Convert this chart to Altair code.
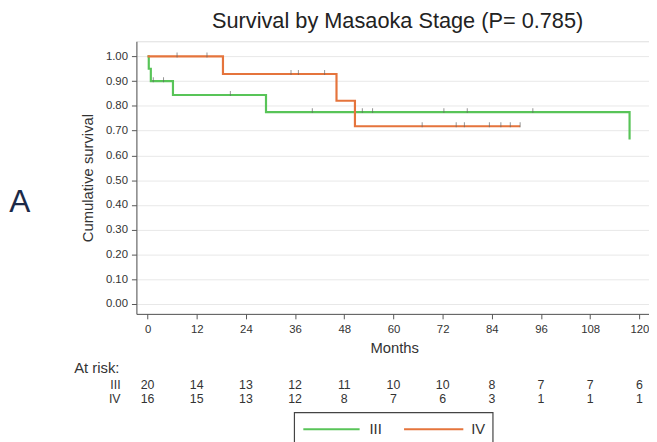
import altair as alt
import pandas as pd

FONT = "Liberation Sans"
GREEN = "#58c458"
ORANGE = "#e5743c"
TXT = "#333333"

# Kaplan-Meier step points (months, cumulative survival)
iii_time = [0.0, 0.3, 0.8, 6.2, 28.9, 117.6]
iii_surv = [1.000, 0.950, 0.900, 0.844, 0.775, 0.664]
iv_time = [0.0, 18.4, 46.1, 50.6, 90.9]
iv_surv = [1.000, 0.929, 0.821, 0.718, 0.718]

# censored observations
iii_cens_time = [1.4, 3.9, 20.2, 40.2, 52.4, 54.9, 72.3, 78.0, 94.0]
iii_cens_surv = [0.900, 0.900, 0.844, 0.775, 0.775, 0.775, 0.775, 0.775, 0.775]
iv_cens_time = [7.2, 14.5, 35.0, 36.8, 43.2, 67.0, 75.3, 77.3, 83.4, 86.2, 88.5, 90.9]
iv_cens_surv = [1.000, 1.000, 0.929, 0.929, 0.929, 0.718, 0.718, 0.718, 0.718, 0.718, 0.718, 0.718]

# numbers at risk
risk_months = [0, 12, 24, 36, 48, 60, 72, 84, 96, 108, 120]
risk_iii = [20, 14, 13, 12, 11, 10, 10, 8, 7, 7, 6]
risk_iv = [16, 15, 13, 12, 8, 7, 6, 3, 1, 1, 1]

groups = ["III", "IV"]
colors = [GREEN, ORANGE]
y_ticks = [0.0, 0.1, 0.2, 0.3, 0.4, 0.5, 0.6, 0.7, 0.8, 0.9, 1.0]

curve_df = pd.DataFrame(
    [{"group": "III", "time": t, "surv": s, "idx": i} for i, (t, s) in enumerate(zip(iii_time, iii_surv))]
    + [{"group": "IV", "time": t, "surv": s, "idx": i} for i, (t, s) in enumerate(zip(iv_time, iv_surv))]
)
cens_df = pd.DataFrame(
    [{"group": "III", "time": t, "surv": s} for t, s in zip(iii_cens_time, iii_cens_surv)]
    + [{"group": "IV", "time": t, "surv": s} for t, s in zip(iv_cens_time, iv_cens_surv)]
)
risk_iii_df = pd.DataFrame({"month": risk_months, "n": risk_iii})
risk_iv_df = pd.DataFrame({"month": risk_months, "n": risk_iv})

W, H = 519, 276
xscale = alt.Scale(domain=[-2.72, 122.34], nice=False, zero=False)
yscale = alt.Scale(domain=[-0.040, 1.061], nice=False, zero=False)
cscale = alt.Scale(domain=groups, range=colors)

xaxis = alt.Axis(
    values=risk_months, title="Months", grid=False, labelOverlap=False,
    labelFont=FONT, labelFontSize=11.5, labelColor=TXT, labelPadding=5,
    tickSize=5, tickColor="#555555", domainColor="#555555",
    titleFont=FONT, titleFontSize=15, titleFontWeight="normal", titleColor=TXT,
    titlePadding=6, titleX=261, titleAlign="center",
)
yaxis = alt.Axis(
    values=y_ticks, tickCount=11, format=".2f", title="Cumulative survival", labelOverlap=False,
    grid=True, gridColor="#e8e8e8", gridWidth=1,
    labelFont=FONT, labelFontSize=11.5, labelColor=TXT, labelPadding=4,
    tickSize=5, tickColor="#555555", domainColor="#555555",
    titleFont=FONT, titleFontSize=15, titleFontWeight="normal", titleColor=TXT,
    titlePadding=10,
)

lines = alt.Chart(curve_df).mark_line(interpolate="step-after", strokeWidth=2.2).encode(
    x=alt.X("time:Q", scale=xscale, axis=xaxis),
    y=alt.Y("surv:Q", scale=yscale, axis=yaxis),
    color=alt.Color("group:N", scale=cscale, legend=None),
    order="idx:Q",
)

ticks = alt.Chart(cens_df).mark_tick(orient="vertical", size=5, thickness=1, color="#666666", yOffset=-1.5).encode(
    x=alt.X("time:Q", scale=xscale, axis=xaxis),
    y=alt.Y("surv:Q", scale=yscale, axis=yaxis),
)

risk3 = alt.Chart(risk_iii_df).mark_text(font=FONT, fontSize=12.5, color=TXT, baseline="middle").encode(
    x=alt.X("month:Q", scale=xscale, axis=xaxis), y=alt.value(347.7), text="n:Q"
)
risk4 = alt.Chart(risk_iv_df).mark_text(font=FONT, fontSize=12.5, color=TXT, baseline="middle").encode(
    x=alt.X("month:Q", scale=xscale, axis=xaxis), y=alt.value(362.7), text="n:Q"
)

labels_df = pd.DataFrame({"t": groups, "yy": [347.7, 362.7]})
row_labels = alt.Chart(labels_df).mark_text(font=FONT, fontSize=12.5, color=TXT, align="right", baseline="middle").encode(
    x=alt.value(-16), y=alt.Y("yy:Q", scale=None, axis=None), text="t:N"
)
at_risk = alt.Chart(pd.DataFrame({"t": ["At risk:"]})).mark_text(
    font=FONT, fontSize=15, color=TXT, align="left", baseline="middle"
).encode(x=alt.value(-63), y=alt.value(331), text="t:N")

panel = alt.Chart(pd.DataFrame({"t": ["A"]})).mark_text(
    font=FONT, fontSize=32, color="#1c2a48", align="center", baseline="middle"
).encode(x=alt.value(-118), y=alt.value(163), text="t:N")

# legend box (drawn by hand so its entries stay one compact row)
leg_df = pd.DataFrame({
    "group": groups,
    "x1": [169, 271], "x2": [226, 331], "tx": [236, 339],
})
leg_box = alt.Chart(pd.DataFrame({"k": [0]})).mark_rect(
    fill="white", stroke="#444444", strokeWidth=1.2
).encode(x=alt.value(160), x2=alt.value(361), y=alt.value(376), y2=alt.value(420))
leg_lines = alt.Chart(leg_df).mark_rule(strokeWidth=2).encode(
    x=alt.X("x1:Q", scale=None, axis=None), x2="x2:Q", y=alt.value(392.7),
    color=alt.Color("group:N", scale=cscale, legend=None),
)
leg_text = alt.Chart(leg_df).mark_text(
    font=FONT, fontSize=15, color=TXT, align="left", baseline="middle"
).encode(x=alt.X("tx:Q", scale=None, axis=None), y=alt.value(392.7), text="group:N")

chart = alt.layer(
    lines, ticks, risk3, risk4, row_labels, at_risk, panel, leg_box, leg_lines, leg_text
).properties(
    width=W, height=H,
    title=alt.TitleParams(
        "Survival by Masaoka Stage (P= 0.785)", font=FONT, fontSize=22,
        fontWeight="normal", color="#222222", anchor="middle", dx=5, offset=8,
    ),
    autosize=alt.AutoSizeParams(type="none"),
    padding={"left": 130, "top": 31, "right": 0, "bottom": 127},
).configure_view(stroke=None).configure(background="white")

chart.save("out.html", embed_options={"renderer": "svg", "actions": False})
